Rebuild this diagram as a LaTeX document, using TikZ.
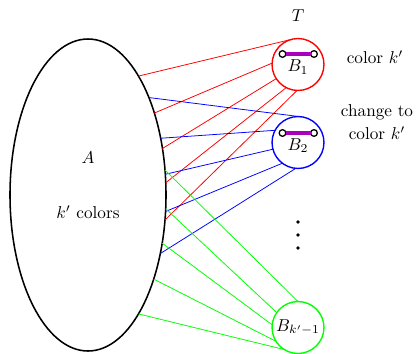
\documentclass[tikz,border=0pt]{standalone}
\usetikzlibrary{shapes.geometric}
\definecolor{barcol}{RGB}{170,0,190}
\begin{document}
\begin{tikzpicture}[x=0.5814pt,y=-0.5814pt,
  bcirc/.style={circle,draw=#1,line width=0.8pt,minimum size=30.2pt,inner sep=0pt,outer sep=0pt,text=black},
  conn/.style={line width=0.45pt},
  endpt/.style={circle,draw,line width=0.75pt,fill=white,minimum size=3.9pt,inner sep=0pt,outer sep=0pt},
  bar/.style={barcol,line width=2.3pt},
  dotst/.style={circle,fill,minimum size=2.3pt,inner sep=0pt}]
\useasboundingbox (0,0) rectangle (416,353);
% main ellipse
\node[ellipse,draw,line width=0.9pt,minimum width=90.7pt,minimum height=181.4pt,inner sep=0pt,outer sep=0pt] (A) at (88,195) {};
\node (Alab) at (88,158) {$A$};
\node (Acol) at (88,212) {$k'$ colors};
% circles
\node[bcirc=red] (B1) at (298,64.5) {};
\node[bcirc=blue] (B2) at (298,142.5) {};
\node[bcirc=green] (B3) at (298,327.5) {$B_{k'-1}$};
\node (B1lab) at (298,67) {$B_1$};
\node (B2lab) at (298,145.5) {$B_2$};
% labels
\node (T) at (298,16) {$T$};
\node (col1) at (375,57) {color $k'$};
\node[align=center] (chg) at (377,122.5) {change to\\[1.3pt] color $k'$};
% dots
\node[dotst] (d1) at (298,222) {};
\node[dotst] (d2) at (298,235) {};
\node[dotst] (d3) at (298,248) {};
% connectors
\foreach \a/\b in {67/105, 51/177, 32/213, 9/243, -18/268}
  \draw[conn,red] (A.\a) -- (B1.\b);
\foreach \a/\b in {58/88, 38/152, 15/195, -12/233, -39/265}
  \draw[conn,blue] (A.\a) -- (B2.\b);
\foreach \a/\b in {18/90, -10/145, -33/174, -52/212, -67/238}
  \draw[conn,green] (A.\a) -- (B3.\b);
% bars with endpoints
\node[endpt] (p1l) at (282.5,54) {};
\node[endpt] (p1r) at (314,54) {};
\node[endpt] (p2l) at (282.5,133) {};
\node[endpt] (p2r) at (314,133) {};
\draw[bar] (p1l) -- (p1r);
\draw[bar] (p2l) -- (p2r);
\end{tikzpicture}
\end{document}
